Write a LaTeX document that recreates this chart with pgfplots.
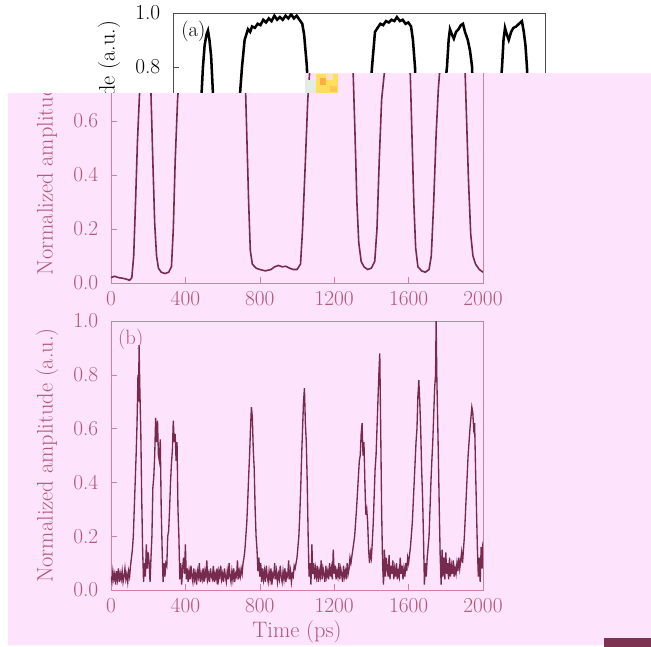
\documentclass[border=0pt]{standalone}
\usepackage{fontspec}
\usepackage{pgfplots}
\pgfplotsset{compat=1.18}
\usepackage{pgfplotstable}

\definecolor{pinkbg}{RGB}{253,228,252}
\definecolor{wine}{RGB}{118,42,78}
\definecolor{winetxt}{RGB}{178,88,124}
\definecolor{wineax}{RGB}{208,128,162}
\definecolor{darkbar}{RGB}{125,50,82}
\definecolor{artgreen}{RGB}{226,236,226}
\definecolor{artyellow}{RGB}{255,222,92}
\definecolor{artorange}{RGB}{255,172,70}
\definecolor{artpeach}{RGB}{250,222,205}
\definecolor{artgold}{RGB}{255,198,84}

% panel (a): square pulses
\pgfplotstableread[row sep=\\]{
t v\\
0 0.02\\ 20 0.025\\ 40 0.02\\ 60 0.018\\ 80 0.015\\ 100 0.01\\ 112 0.02\\ 122 0.1\\ 132 0.3\\ 142 0.52\\
152 0.68\\ 161 0.8\\ 170 0.88\\ 180 0.92\\ 188 0.935\\ 196 0.9\\ 205 0.84\\ 215 0.7\\ 225 0.45\\ 235 0.22\\
245 0.1\\ 255 0.055\\ 270 0.04\\ 290 0.035\\ 310 0.04\\ 325 0.06\\ 335 0.2\\ 345 0.45\\ 358 0.68\\ 371 0.8\\
385 0.9\\ 403 0.94\\ 415 0.93\\ 425 0.95\\ 440 0.945\\ 455 0.96\\ 470 0.955\\ 485 0.975\\ 500 0.965\\ 515 0.98\\
530 0.97\\ 545 0.99\\ 560 0.975\\ 575 0.985\\ 590 0.975\\ 605 0.99\\ 620 0.98\\ 635 0.995\\ 650 0.98\\ 665 0.99\\
680 0.975\\ 695 0.96\\ 705 0.92\\ 720 0.8\\ 730 0.55\\ 740 0.3\\ 749 0.12\\ 760 0.07\\ 780 0.055\\ 800 0.05\\
830 0.045\\ 860 0.05\\ 880 0.06\\ 900 0.065\\ 920 0.06\\ 940 0.062\\ 960 0.055\\ 980 0.05\\ 1000 0.05\\ 1019 0.07\\
1030 0.2\\ 1045 0.45\\ 1058 0.68\\ 1070 0.8\\ 1086 0.93\\ 1100 0.945\\ 1115 0.96\\ 1130 0.955\\ 1145 0.97\\ 1160 0.965\\
1175 0.975\\ 1190 0.97\\ 1204 0.985\\ 1220 0.97\\ 1235 0.975\\ 1250 0.96\\ 1265 0.965\\ 1280 0.95\\ 1290 0.9\\ 1301 0.8\\
1312 0.55\\ 1322 0.3\\ 1332 0.15\\ 1345 0.08\\ 1360 0.06\\ 1380 0.05\\ 1400 0.055\\ 1418 0.08\\ 1430 0.2\\ 1442 0.45\\
1455 0.68\\ 1473 0.8\\ 1482 0.9\\ 1489 0.94\\ 1500 0.92\\ 1510 0.905\\ 1522 0.93\\ 1535 0.94\\ 1548 0.955\\ 1559 0.96\\
1570 0.93\\ 1585 0.9\\ 1597 0.86\\ 1608 0.8\\ 1618 0.55\\ 1628 0.3\\ 1638 0.13\\ 1650 0.06\\ 1670 0.045\\ 1690 0.04\\
1710 0.05\\ 1722 0.1\\ 1735 0.3\\ 1748 0.55\\ 1760 0.72\\ 1769 0.8\\ 1777 0.9\\ 1785 0.945\\ 1795 0.92\\ 1805 0.9\\
1818 0.93\\ 1830 0.945\\ 1845 0.95\\ 1860 0.96\\ 1876 0.97\\ 1886 0.93\\ 1895 0.88\\ 1903 0.8\\ 1912 0.6\\ 1922 0.38\\
1934 0.18\\ 1946 0.1\\ 1960 0.07\\ 1980 0.05\\ 2000 0.04\\
}\dataA

% panel (b): noisy pulses
\pgfplotstableread[row sep=\\]{
t v\\
0 0.05\\ 5 0.03\\ 10 0.07\\ 15 0.04\\ 20 0.06\\ 25 0.02\\ 30 0.07\\ 35 0.04\\ 40 0.08\\ 45 0.03\\
50 0.06\\ 55 0.04\\ 60 0.07\\ 65 0.03\\ 70 0.05\\ 75 0.08\\ 80 0.04\\ 85 0.06\\ 90 0.03\\ 95 0.07\\
100 0.05\\ 105 0.09\\ 110 0.12\\ 115 0.15\\ 120 0.2\\ 125 0.3\\ 130 0.4\\ 135 0.5\\ 140 0.62\\ 145 0.8\\
148 0.7\\ 151 0.91\\ 155 0.75\\ 160 0.6\\ 165 0.35\\ 170 0.15\\ 175 0.03\\ 180 0.1\\ 185 0.05\\ 190 0.17\\
195 0.08\\ 200 0.14\\ 205 0.1\\ 210 0.03\\ 215 0.12\\ 220 0.2\\ 225 0.38\\ 230 0.42\\ 235 0.5\\ 240 0.64\\
245 0.55\\ 250 0.63\\ 255 0.5\\ 260 0.48\\ 265 0.56\\ 270 0.3\\ 275 0.15\\ 280 0.03\\ 285 0.1\\ 290 0.05\\
295 0.1\\ 300 0.09\\ 305 0.2\\ 310 0.22\\ 315 0.3\\ 320 0.4\\ 325 0.47\\ 330 0.52\\ 335 0.63\\ 340 0.55\\
345 0.58\\ 350 0.48\\ 355 0.55\\ 360 0.3\\ 365 0.2\\ 370 0.04\\ 375 0.1\\ 380 0.02\\ 385 0.08\\ 390 0.12\\
395 0.06\\ 400 0.17\\ 405 0.04\\ 410 0.08\\ 415 0.03\\ 420 0.07\\ 425 0.04\\ 430 0.09\\ 435 0.05\\ 440 0.03\\
445 0.08\\ 450 0.04\\ 455 0.06\\ 460 0.02\\ 465 0.07\\ 470 0.05\\ 475 0.10\\ 480 0.03\\ 485 0.06\\ 490 0.04\\
495 0.08\\ 500 0.03\\ 505 0.07\\ 510 0.05\\ 515 0.11\\ 520 0.04\\ 525 0.06\\ 530 0.03\\ 535 0.08\\ 540 0.05\\
545 0.04\\ 550 0.09\\ 555 0.03\\ 560 0.06\\ 565 0.04\\ 570 0.08\\ 575 0.02\\ 580 0.07\\ 585 0.05\\ 590 0.09\\
595 0.04\\ 600 0.06\\ 605 0.03\\ 610 0.08\\ 615 0.05\\ 620 0.03\\ 625 0.07\\ 630 0.04\\ 635 0.10\\ 640 0.05\\
645 0.03\\ 650 0.07\\ 655 0.04\\ 660 0.08\\ 665 0.03\\ 670 0.06\\ 675 0.05\\ 680 0.11\\ 685 0.04\\ 690 0.07\\
695 0.05\\ 700 0.08\\ 705 0.06\\ 710 0.1\\ 715 0.12\\ 720 0.15\\ 725 0.2\\ 730 0.25\\ 735 0.33\\ 740 0.42\\
745 0.5\\ 750 0.6\\ 755 0.68\\ 760 0.64\\ 765 0.52\\ 770 0.45\\ 775 0.3\\ 780 0.2\\ 785 0.15\\ 790 0.07\\
795 0.12\\ 800 0.05\\ 805 0.1\\ 810 0.03\\ 815 0.08\\ 820 0.04\\ 825 0.07\\ 830 0.03\\ 835 0.09\\ 840 0.05\\
845 0.03\\ 850 0.07\\ 855 0.04\\ 860 0.08\\ 865 0.02\\ 870 0.06\\ 875 0.05\\ 880 0.10\\ 885 0.04\\ 890 0.07\\
895 0.03\\ 900 0.06\\ 905 0.04\\ 910 0.09\\ 915 0.05\\ 920 0.03\\ 925 0.07\\ 930 0.04\\ 935 0.08\\ 940 0.03\\
945 0.06\\ 950 0.05\\ 955 0.11\\ 960 0.04\\ 965 0.07\\ 970 0.03\\ 975 0.06\\ 980 0.05\\ 985 0.09\\ 990 0.08\\
1000 0.12\\ 1010 0.2\\ 1015 0.28\\ 1020 0.38\\ 1025 0.5\\ 1030 0.6\\ 1035 0.7\\ 1040 0.75\\ 1045 0.62\\ 1050 0.55\\
1055 0.4\\ 1060 0.2\\ 1065 0.05\\ 1070 0.1\\ 1075 0.02\\ 1080 0.17\\ 1085 0.06\\ 1090 0.1\\ 1095 0.04\\ 1100 0.08\\
1105 0.05\\ 1110 0.09\\ 1115 0.03\\ 1120 0.07\\ 1125 0.05\\ 1130 0.11\\ 1135 0.04\\ 1140 0.08\\ 1145 0.06\\ 1150 0.03\\
1155 0.09\\ 1160 0.05\\ 1165 0.07\\ 1170 0.04\\ 1175 0.10\\ 1180 0.05\\ 1185 0.08\\ 1190 0.04\\ 1195 0.15\\ 1200 0.06\\
1205 0.09\\ 1210 0.04\\ 1215 0.07\\ 1220 0.05\\ 1225 0.10\\ 1230 0.04\\ 1235 0.08\\ 1240 0.06\\ 1245 0.03\\ 1250 0.09\\
1255 0.05\\ 1260 0.07\\ 1265 0.04\\ 1270 0.10\\ 1275 0.06\\ 1280 0.08\\ 1285 0.12\\ 1290 0.1\\ 1300 0.15\\ 1310 0.2\\
1320 0.3\\ 1330 0.42\\ 1335 0.48\\ 1340 0.5\\ 1345 0.58\\ 1350 0.62\\ 1355 0.5\\ 1360 0.55\\ 1365 0.4\\ 1370 0.28\\
1375 0.3\\ 1380 0.25\\ 1385 0.15\\ 1390 0.1\\ 1395 0.14\\ 1400 0.12\\ 1405 0.18\\ 1410 0.25\\ 1415 0.35\\ 1420 0.45\\
1425 0.5\\ 1430 0.6\\ 1435 0.7\\ 1440 0.8\\ 1445 0.88\\ 1450 0.6\\ 1455 0.3\\ 1460 0.1\\ 1465 0.02\\ 1470 0.15\\
1475 0.05\\ 1480 0.12\\ 1485 0.08\\ 1490 0.05\\ 1495 0.13\\ 1500 0.04\\ 1505 0.09\\ 1510 0.06\\ 1515 0.11\\ 1520 0.04\\
1525 0.08\\ 1530 0.05\\ 1535 0.10\\ 1540 0.04\\ 1545 0.07\\ 1550 0.05\\ 1555 0.12\\ 1560 0.06\\ 1565 0.09\\ 1570 0.04\\
1575 0.08\\ 1580 0.05\\ 1585 0.10\\ 1590 0.07\\ 1595 0.12\\ 1600 0.1\\ 1610 0.16\\ 1620 0.25\\ 1630 0.4\\ 1640 0.55\\
1645 0.6\\ 1650 0.72\\ 1655 0.78\\ 1660 0.7\\ 1665 0.6\\ 1670 0.45\\ 1675 0.35\\ 1680 0.2\\ 1685 0.02\\ 1690 0.1\\
1695 0.05\\ 1700 0.12\\ 1710 0.2\\ 1720 0.4\\ 1725 0.48\\ 1730 0.55\\ 1735 0.65\\ 1740 0.75\\ 1745 0.8\\ 1748 1.0\\
1752 0.78\\ 1755 0.68\\ 1760 0.5\\ 1765 0.3\\ 1770 0.12\\ 1775 0.02\\ 1780 0.15\\ 1785 0.05\\ 1790 0.12\\ 1795 0.04\\
1800 0.14\\ 1805 0.06\\ 1810 0.1\\ 1815 0.04\\ 1820 0.12\\ 1825 0.05\\ 1830 0.09\\ 1835 0.06\\ 1840 0.11\\ 1845 0.05\\
1850 0.08\\ 1855 0.06\\ 1860 0.1\\ 1865 0.07\\ 1870 0.12\\ 1875 0.08\\ 1880 0.11\\ 1885 0.14\\ 1890 0.1\\ 1900 0.2\\
1910 0.35\\ 1920 0.5\\ 1930 0.6\\ 1940 0.68\\ 1945 0.66\\ 1950 0.6\\ 1955 0.62\\ 1960 0.45\\ 1965 0.3\\ 1970 0.15\\
1975 0.05\\ 1980 0.12\\ 1985 0.03\\ 1990 0.16\\ 1995 0.08\\ 2000 0.18\\
}\dataB

\pgfplotsset{
  panel/.style={
    scale only axis, width=279pt, height=202.5pt,
    xmin=0, xmax=2000, ymin=0, ymax=1,
    xtick={0,400,...,2000}, ytick={0,0.2,...,1.0},
    scaled ticks=false,
    /pgf/number format/assume math mode=true,
    yticklabel style={/pgf/number format/fixed, /pgf/number format/fixed zerofill, /pgf/number format/precision=1},
    xticklabel style={/pgf/number format/set thousands separator={}},
    xtick pos=left, ytick pos=left, tick align=inside,
    xticklabel shift=2.5pt, yticklabel shift=6pt,
    tick label style={font=\fontsize{16}{18}\selectfont},
    label style={font=\fontsize{16.8}{19}\selectfont},
    ylabel={Normalized amplitude (a.u.)},
    ylabel style={at={(axis description cs:-0.172,0.5)}, anchor=center},
    xlabel style={at={(axis description cs:0.5,0)}, anchor=center, yshift=-31.5pt},
  }
}

% #1 x position, #2 frame colour, #3 text colour, #4 curve colour, #5 curve width, #6 extra keys
\newcommand\drawA[6]{%
  \begin{axis}[panel, at={(#1,-212.25pt)}, axis line style={#2}, major tick style={#2},
      tick label style={text=#3}, label style={text=#3}, #6]
    \addplot[#4, line width=#5] table {\dataA};
    \node[anchor=north west, text=#3, font=\fontsize{15.5}{18}\selectfont, inner sep=1pt] at (rel axis cs:0.018,0.975) {(a)};
  \end{axis}%
}
\newcommand\drawB[5]{%
  \begin{axis}[panel, at={(#1,-442.5pt)}, height=201.75pt, axis line style={#2}, major tick style={#2},
      tick label style={text=#3}, label style={text=#3}, xlabel={Time (ps)}]
    \addplot[#4, line width=#5] table {\dataB};
    \node[anchor=north west, text=#3, font=\fontsize{15.5}{18}\selectfont, inner sep=1pt] at (rel axis cs:0.015,0.975) {(b)};
  \end{axis}%
}

\begin{document}
\begin{tikzpicture}
\path[use as bounding box, x=0.75pt, y=-0.75pt] (0,0) rectangle (651,647);

% the plain figure (only its top stays in view)
\drawA{129.75pt}{black!70}{black}{black}{1.9pt}{xticklabels={}, ytick={0.8,1.0}}

% tinted copy, shifted left
\begin{scope}
  \fill[pinkbg, x=0.75pt, y=-0.75pt] (8,93) -- (305,93) -- (305,73) -- (651,73) -- (651,645) -- (8,645) -- cycle;
  \clip[x=0.75pt, y=-0.75pt] (8,93) -- (305,93) -- (305,73) -- (651,73) -- (651,645) -- (8,645) -- cycle;
  \drawA{83.25pt}{wineax}{winetxt}{wine}{1.2pt}{ytick={0,0.2,0.4,0.6}}
  \drawB{83.25pt}{wineax}{winetxt}{wine}{1.0pt}
\end{scope}

\begin{scope}[x=0.75pt, y=-0.75pt]
  \fill[artgreen] (305,80) rectangle (316,93);
  \fill[artyellow] (316,74) rectangle (338,93);
  \fill[artorange] (320,78) rectangle (326,85);
  \fill[artpeach] (326,74) rectangle (333,80);
  \fill[artgold] (330,86) rectangle (337,92);
  \fill[darkbar] (604,638) rectangle (651,647);
\end{scope}
\end{tikzpicture}
\end{document}
